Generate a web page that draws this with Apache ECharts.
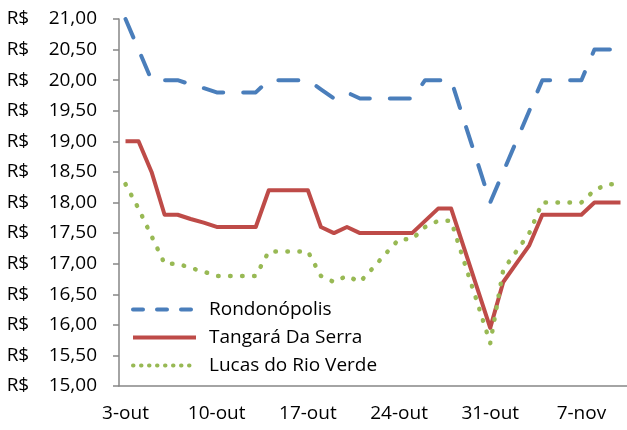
<!DOCTYPE html>
<html>
<head>
<meta charset="utf-8">
<script src="https://cdn.jsdelivr.net/npm/echarts@6/dist/echarts.min.js"></script>
<style>
  html, body { margin: 0; padding: 0; background: #fff; }
  #chart { width: 627px; height: 430px; }
</style>
</head>
<body>
<div id="chart"></div>
<script>
const days = [
    '3-out', '4-out', '5-out', '6-out', '7-out', '8-out', '9-out',
    '10-out', '11-out', '12-out', '13-out', '14-out', '15-out', '16-out',
    '17-out', '18-out', '19-out', '20-out', '21-out', '22-out', '23-out',
    '24-out', '25-out', '26-out', '27-out', '28-out', '29-out', '30-out',
    '31-out', '1-nov', '2-nov', '3-nov', '4-nov', '5-nov', '6-nov',
    '7-nov', '8-nov', '9-nov', '10-nov'
];

const rondonopolis = [
    21.0, 20.5, 20.0, 20.0, 20.0, 19.93, 19.87,
    19.8, 19.8, 19.8, 19.8, 20.0, 20.0, 20.0,
    20.0, 19.85, 19.7, 19.8, 19.7, 19.7, 19.7,
    19.7, 19.7, 20.0, 20.0, 20.0, 19.33, 18.67,
    18.0, 18.5, 19.0, 19.5, 20.0, 20.0, 20.0,
    20.0, 20.5, 20.5, 20.5
];

const tangara = [
    19.0, 19.0, 18.5, 17.8, 17.8, 17.73, 17.67,
    17.6, 17.6, 17.6, 17.6, 18.2, 18.2, 18.2,
    18.2, 17.6, 17.5, 17.6, 17.5, 17.5, 17.5,
    17.5, 17.5, 17.7, 17.9, 17.9, 17.25, 16.6,
    15.95, 16.7, 17.0, 17.3, 17.8, 17.8, 17.8,
    17.8, 18.0, 18.0, 18.0
];

const lucas = [
    18.3, 17.9, 17.45, 17.0, 17.0, 16.93, 16.87,
    16.8, 16.8, 16.8, 16.8, 17.2, 17.2, 17.2,
    17.2, 16.8, 16.7, 16.8, 16.7, 16.93, 17.17,
    17.4, 17.4, 17.6, 17.7, 17.7, 17.03, 16.37,
    15.7, 16.9, 17.2, 17.5, 18.0, 18.0, 18.0,
    18.0, 18.2, 18.3, 18.3
];

const font = 'Open Sans';
const axisGray = '#868686';
const chart = echarts.init(document.getElementById('chart'));

// accounting-style money label: "R$" pushed left, number to the right
function moneyLabel(v) {
    return '{cur|R$}{num|' + v.toFixed(2).replace('.', ',') + '}';
}

chart.setOption({
    animation: false,
    backgroundColor: '#fff',
    textStyle: { fontFamily: font, color: '#000' },
    grid: { left: 119, top: 19, width: 511, height: 367 },
    legend: {
        orient: 'vertical',
        left: 126,
        top: 295,
        itemWidth: 63,
        itemHeight: 14,
        itemGap: 9,
        itemStyle: { opacity: 0 },
        textStyle: { fontFamily: font, fontSize: 19, color: '#000', padding: [0, 0, 0, 8] },
        data: [
            { name: 'Rondonópolis', lineStyle: { width: 4, type: [10, 14], cap: 'round' } },
            { name: 'Tangará Da Serra', lineStyle: { width: 4 } },
            { name: 'Lucas do Rio Verde', lineStyle: { width: 4, type: [0.5, 7.5], cap: 'round' } },
        ],
    },
    xAxis: {
        type: 'category',
        data: days,
        boundaryGap: true,
        axisLine: { lineStyle: { color: axisGray, width: 1.5 } },
        axisTick: { interval: 6, length: 6, lineStyle: { color: axisGray, width: 1.5 } },
        axisLabel: { interval: 6, margin: 18, fontSize: 19, color: '#000', fontFamily: font },
    },
    yAxis: {
        type: 'value',
        min: 15,
        max: 21,
        interval: 0.5,
        splitLine: { show: false },
        axisLine: { show: true, lineStyle: { color: axisGray, width: 1.5 } },
        axisTick: { show: true, length: 6, lineStyle: { color: axisGray, width: 1.5 } },
        axisLabel: {
            margin: 22,
            formatter: moneyLabel,
            rich: {
                cur: { fontSize: 19, fontFamily: font, color: '#000', width: 42, align: 'left' },
                num: { fontSize: 19, fontFamily: font, color: '#000' },
            },
        },
    },
    series: [
        {
            name: 'Rondonópolis',
            type: 'line',
            data: rondonopolis,
            symbol: 'none',
            lineStyle: { color: '#4A7EBB', width: 4, type: [20, 20], cap: 'round', join: 'round' },
            itemStyle: { color: '#4A7EBB' },
        },
        {
            name: 'Tangará Da Serra',
            type: 'line',
            data: tangara,
            symbol: 'none',
            lineStyle: { color: '#BE4B48', width: 4, join: 'round' },
            itemStyle: { color: '#BE4B48' },
        },
        {
            name: 'Lucas do Rio Verde',
            type: 'line',
            data: lucas,
            symbol: 'none',
            lineStyle: { color: '#98B954', width: 4.5, type: [0.5, 11.5], cap: 'round', join: 'round' },
            itemStyle: { color: '#98B954' },
        },
    ],
});
</script>
</body>
</html>
